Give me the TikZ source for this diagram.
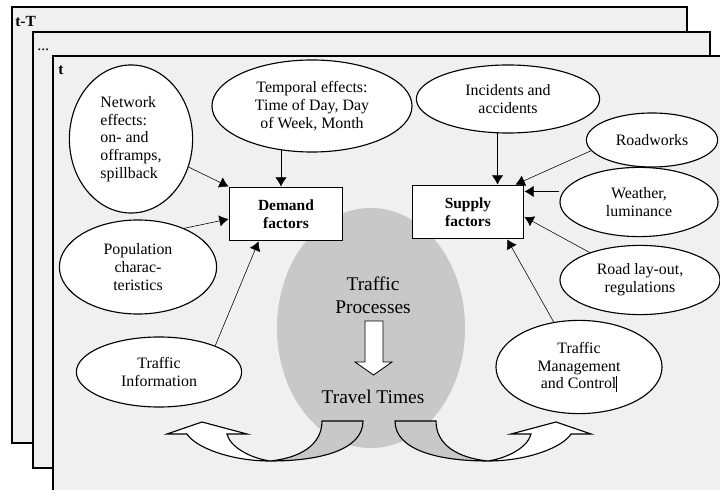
\documentclass[tikz,border=0pt]{standalone}
\usepackage{fontspec}
\setmainfont{Liberation Serif}
\usetikzlibrary{shapes, arrows.meta, positioning}
\definecolor{slicegray}{RGB}{240,240,240}
\definecolor{procgray}{RGB}{200,200,200}
\tikzstyle{every node}=[font=\fontsize{11.3}{12.6}\selectfont]
\tikzstyle{slice}=[draw,fill=slicegray,line width=1pt]
\tikzstyle{slicelabel}=[inner sep=0pt,anchor=base west]
\tikzstyle{factor}=[draw,fill=white,ellipse,inner sep=0pt,align=center,line width=0.8pt]
\tikzstyle{block}=[draw,fill=white,rectangle,inner sep=0pt,align=center,line width=1.2pt,font=\fontsize{11}{12.6}\selectfont\bfseries]
\tikzstyle{bigtext}=[align=center,font=\fontsize{13.8}{16.1}\selectfont]
\tikzstyle{feedback}=[line width=0.8pt]

\begin{document}
\begin{tikzpicture}[x=0.025cm,y=-0.025cm,>={Latex[length=6.5pt,width=8pt]}]
    \useasboundingbox (0,0) rectangle (720,490);
    \clip (0,0) rectangle (720,490);
    % time slices
    \draw[slice] (12,7) rectangle (687,443);
    \draw[slice] (33,32) rectangle (710,468);
    \draw[slice] (53,56) rectangle (730,500);
    \node[slicelabel,font=\fontsize{11}{12}\selectfont\bfseries] (tT) at (15,27) {t-T};
    \node[slicelabel] (tdots) at (37,51) {...};
    \node[slicelabel,font=\fontsize{11}{12}\selectfont\bfseries] (t) at (58,75) {t};
    % traffic processes
    \node[ellipse,fill=procgray,minimum width=4.7cm,minimum height=6cm] (proc) at (371,328) {};
    \node[bigtext] (tp) at (373,295) {Traffic\\Processes};
    \node[bigtext] (tt) at (373,397) {Travel Times};
    \draw[fill=white,line width=0.6pt] (365,321) -- (383,321) -- (383,362) -- (392,362) -- (373.5,375)
        -- (355,362) -- (365,362) -- cycle;
    % feedback arrows
    \draw[feedback,fill=procgray] (322,421) -- (363,421) .. controls (363,450) and (320,461) .. (270,461)
        .. controls (300,458) and (322,445) .. (322,421) -- cycle;
    \draw[feedback,fill=white] (270,461) .. controls (230,461) and (195,447) .. (187,434) -- (167,434) -- (202,422)
        -- (247,434) -- (227,434) .. controls (230,447) and (250,458) .. (270,461) -- cycle;
    \draw[feedback,fill=procgray] (436,421) -- (395,421) .. controls (395,450) and (438,461) .. (488,461)
        .. controls (458,458) and (436,445) .. (436,421) -- cycle;
    \draw[feedback,fill=white] (488,461) .. controls (528,461) and (563,447) .. (571,434) -- (591,434) -- (556,422)
        -- (511,434) -- (531,434) .. controls (528,447) and (508,458) .. (488,461) -- cycle;
    % factors
    \node[block,minimum width=2.83cm,minimum height=1.33cm] (dem) at (286,214) {Demand\\factors};
    \node[block,minimum width=2.78cm,minimum height=1.33cm] (sup) at (468,212) {Supply\\factors};
    \node[factor,align=left,minimum width=3.08cm,minimum height=3.7cm] (net) at (131,139) {Network\\effects:\\on- and\\offramps,\\spillback};
    \node[factor,minimum width=5cm,minimum height=2.3cm] (temp) at (312,106) {Temporal effects:\\Time of Day, Day\\of Week, Month};
    \node[factor,minimum width=3.93cm,minimum height=2.35cm] (pop) at (138,267) {Population\\charac-\\teristics};
    \node[factor,minimum width=4.13cm,minimum height=1.75cm] (info) at (159,372) {Traffic\\Information};
    \node[factor,minimum width=4.58cm,minimum height=1.7cm] (inc) at (508,99) {Incidents and\\accidents};
    \node[factor,minimum width=3.28cm,minimum height=1.35cm] (road) at (652,140) {Roadworks};
    \node[factor,minimum width=3.95cm,minimum height=1.73cm] (wea) at (639,202) {Weather,\\luminance};
    \node[factor,minimum width=4cm,minimum height=1.73cm] (lay) at (640,280) {Road lay-out,\\regulations};
    \node[factor,minimum width=4.15cm,minimum height=2.33cm] (man) at (579,367) {Traffic\\Management\\and Control\rule[-2pt]{0.5pt}{11pt}};
    \draw[->] (net) -- (dem.north west);
    \draw[->] (temp.235) -- (temp.235 |- dem.north);
    \draw[->] (pop.40) -- (dem.185);
    \draw[->] (info.25) -- (dem.-135);
    \draw[->] (inc.253) -- (inc.253 |- sup.north);
    \draw[->] (road.190) -- (sup.30);
    \draw[->] (wea.west |- sup.20) -- (sup.20);
    \draw[->] (lay) -- (sup.-5);
    \draw[->] (man) -- (sup.-35);
\end{tikzpicture}
\end{document}
